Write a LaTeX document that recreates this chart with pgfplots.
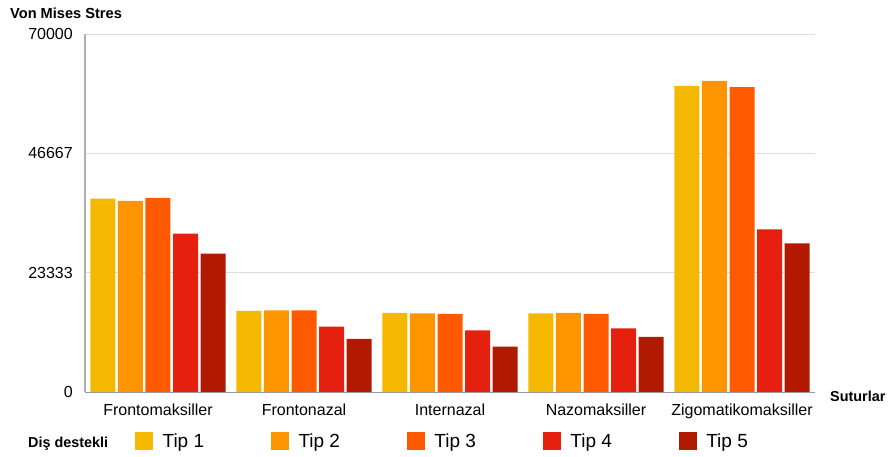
\documentclass[border=0pt]{standalone}
\usepackage{fontspec}
\setmainfont{Liberation Sans}
\usepackage{pgfplots}
\pgfplotsset{compat=1.18}

\definecolor{tipA}{RGB}{245,184,0}
\definecolor{tipB}{RGB}{253,149,0}
\definecolor{tipC}{RGB}{255,90,0}
\definecolor{tipD}{RGB}{230,32,15}
\definecolor{tipE}{RGB}{178,26,0}
\definecolor{gridgray}{RGB}{222,222,222}
\definecolor{yaxisgray}{RGB}{175,175,175}
\definecolor{xaxisgray}{RGB}{150,155,170}

\begin{document}
\begin{tikzpicture}[x=1pt,y=1pt]
\useasboundingbox (-85,-65) rectangle (804,392);
\begin{axis}[
  at={(0,0)}, anchor=south west,
  scale only axis,
  width=730pt, height=358pt,
  xmin=-0.5, xmax=4.5,
  ymin=0, ymax=70000,
  axis x line=bottom, axis y line=left,
  x axis line style={-, draw=xaxisgray, line width=0.9pt},
  y axis line style={-, draw=yaxisgray, line width=1.2pt},
  ymajorgrids,
  grid style={draw=gridgray, line width=0.8pt},
  major tick length=0pt,
  scaled y ticks=false,
  xtick={0,1,2,3,4},
  xticklabels={Frontomaksiller,Frontonazal,Internazal,Nazomaksiller,Zigomatikomaksiller},
  ytick={0,23333,46667,70000},
  yticklabels={0,23333,46667,70000},
  xticklabel style={anchor=base, inner sep=0pt, yshift=-23.7pt,
    font=\fontsize{16}{19}\selectfont},
  yticklabel style={anchor=east, inner sep=0pt, xshift=-12pt,
    font=\fontsize{16}{19}\selectfont},
  ybar=2.6pt, bar width=25pt,
  legend columns=-1,
  legend image code/.code={%
    \fill[#1] (0pt,-9pt) rectangle (18pt,9pt);
    \path (27.4pt,0pt);},
  legend style={
    at={(axis description cs:0.0685,-0.1369)}, anchor=west,
    draw=none, fill=none, inner sep=0pt,
    nodes={inner sep=0pt},
    font=\fontsize{19}{22}\selectfont,
    /tikz/every even column/.append style={column sep=67pt}},
]
% Tip 1 .. Tip 5, one series per type, categories at 0..4
\addplot[fill=tipA, draw=none] coordinates {(0,37810) (1,15840) (2,15450) (3,15390) (4,59850)};
\addplot[fill=tipB, draw=none] coordinates {(0,37360) (1,15980) (2,15390) (3,15450) (4,60830)};
\addplot[fill=tipC, draw=none] coordinates {(0,37950) (1,15980) (2,15260) (3,15260) (4,59590)};
\addplot[fill=tipD, draw=none] coordinates {(0,30960) (1,12780) (2,12060) (3,12450) (4,31820)};
\addplot[fill=tipE, draw=none] coordinates {(0,27050) (1,10370) (2,8870) (3,10760) (4,29080)};
\legend{Tip 1,Tip 2,Tip 3,Tip 4,Tip 5}
\end{axis}
\node[anchor=base west, inner sep=0pt, font=\fontsize{14.6}{17}\selectfont\bfseries] at (-75,373.7) {Von Mises Stres};
\node[anchor=base west, inner sep=0pt, font=\fontsize{14.4}{17}\selectfont\bfseries] at (745,-10) {Suturlar};
\node[anchor=base west, inner sep=0pt, font=\fontsize{14.4}{17}\selectfont\bfseries] at (-57,-55.5) {Diş destekli};
\end{tikzpicture}
\end{document}
